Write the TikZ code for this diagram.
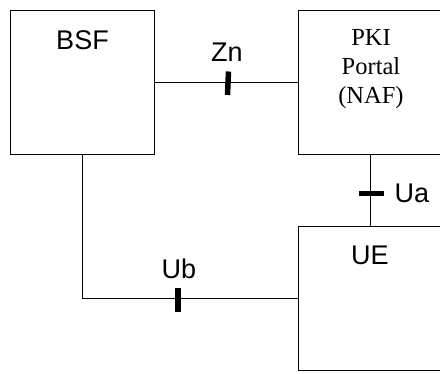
\documentclass[tikz,border=0pt]{standalone}
\usepackage{fontspec}
\setmainfont{Liberation Serif}
\newfontfamily\arialf{Liberation Sans}
\begin{document}
\begin{tikzpicture}[x=1pt,y=-1pt,
  box/.style={draw,line width=1.3pt,minimum width=144pt,minimum height=144pt,inner sep=0pt},
  conn/.style={line width=1.3pt},
  tickmark/.style={line width=5.5pt},
  lbl/.style={font=\arialf\fontsize{27}{30}\selectfont,inner sep=0pt,anchor=base},
  serif/.style={font=\fontsize{24.5}{30}\selectfont,inner sep=0pt,anchor=base}]
\useasboundingbox (0,0) rectangle (440,374);
\clip (0,0) rectangle (440,374);
\node[box] (bsf) at (82.3,82.3) {};
\node[box] (pki) at (370.7,82.3) {};
\node[box] (ue) at (370.7,298.7) {};
\node[lbl] (bsft) at (82.5,49.3) {BSF};
\node[serif] (p1) at (371,45.5) {PKI};
\node[serif] (p2) at (371,74.8) {Portal};
\node[serif] (p3) at (371,103.8) {(NAF)};
\node[lbl] (uet) at (370,265) {UE};
\draw[conn] (bsf.east) -- (pki.west);
\draw[conn] (pki.south) -- (ue.north);
\coordinate (corner) at (bsf.south |- ue.west);
\draw[conn] (bsf.south) -- (corner) -- (ue.west);
% tick marks
\draw[tickmark] (228.5,71.5) -- (227.5,95);
\draw[tickmark] (359,193.3) -- (384,193.3);
\draw[tickmark] (178,288) -- (178,312.5);
\node[lbl] (zn) at (227,62) {Zn};
\node[lbl] (ua) at (412,203) {Ua};
\node[lbl] (ub) at (179,279) {Ub};
\end{tikzpicture}
\end{document}
